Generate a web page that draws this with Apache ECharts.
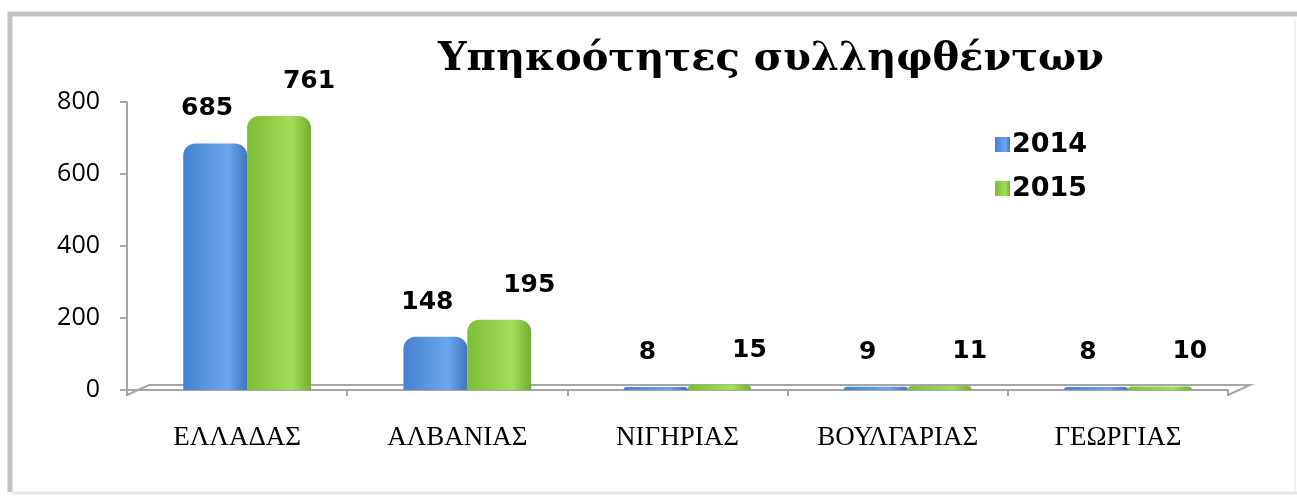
<!DOCTYPE html>
<html>
<head>
<meta charset="utf-8">
<script src="https://cdn.jsdelivr.net/npm/echarts@6/dist/echarts.min.js"></script>
<style>
html, body { margin: 0; padding: 0; background: #fff; }
#chart { width: 1297px; height: 497px; }
</style>
</head>
<body>
<div id="chart"></div>
<script>
// δεδομένα
var countries = ['ΕΛΛΑΔΑΣ', 'ΑΛΒΑΝΙΑΣ', 'ΝΙΓΗΡΙΑΣ', 'ΒΟΥΛΓΑΡΙΑΣ', 'ΓΕΩΡΓΙΑΣ'];
var years = ['2014', '2015'];
var arrests2014 = [685, 148, 8, 9, 8];
var arrests2015 = [761, 195, 15, 11, 10];
var yTicks = [0, 200, 400, 600, 800];

var myChart = echarts.init(document.getElementById('chart'));

function grad(c1, c2, c3) {
	return new echarts.graphic.LinearGradient(0, 0, 1, 0, [
		{ offset: 0, color: c1 },
		{ offset: 0.7, color: c2 },
		{ offset: 1, color: c3 }
	]);
}

var labelFont = {
	show: true,
	position: 'top',
	fontFamily: 'DejaVu Sans',
	fontWeight: 'bold',
	fontSize: 25,
	color: '#000'
};

var gridTop = 102, gridBottom = 107;

option = {
	animation: false,
	title: {
		text: 'Υπηκοότητες συλληφθέντων',
		left: 766,
		textAlign: 'center',
		top: 35,
		textStyle: {
			fontFamily: 'DejaVu Serif',
			fontWeight: 'bold',
			fontSize: 40,
			color: '#000'
		}
	},
	legend: {
		orient: 'vertical',
		left: 990,
		top: 126,
		itemWidth: 15,
		itemHeight: 15,
		itemGap: 17,
		icon: 'rect',
		data: years,
		textStyle: {
			fontFamily: 'DejaVu Sans',
			fontWeight: 'bold',
			fontSize: 27,
			color: '#000',
			padding: [0, 0, 0, -3]
		}
	},
	grid: [
		{ left: 127, right: 69, top: gridTop, bottom: gridBottom },
		{ left: 137, right: 59, top: gridTop, bottom: gridBottom }
	],
	xAxis: [
		{
			type: 'category',
			gridIndex: 0,
			data: countries,
			offset: 5,
			axisLine: { lineStyle: { color: '#a6a6a6', width: 2 } },
			axisTick: { show: true, length: 6, lineStyle: { color: '#a6a6a6', width: 2 } },
			axisLabel: {
				margin: 29,
				fontFamily: 'Liberation Serif',
				fontSize: 27,
				color: '#000'
			}
		},
		{ type: 'category', gridIndex: 1, data: countries, show: false }
	],
	yAxis: [
		{
			type: 'value',
			gridIndex: 0,
			min: 0,
			max: 800,
			interval: 200,
			axisLine: { show: true, lineStyle: { color: '#a6a6a6', width: 2 } },
			axisTick: { show: true, length: 7, lineStyle: { color: '#a6a6a6', width: 2 } },
			splitLine: { show: false },
			axisLabel: {
				margin: 27,
				fontFamily: 'Open Sans',
				fontSize: 25,
				color: '#000'
			}
		},
		{ type: 'value', gridIndex: 1, min: 0, max: 800, interval: 200, show: false, splitLine: { show: false } }
	],
	series: [
		{
			name: years[0],
			type: 'bar',
			xAxisIndex: 1,
			yAxisIndex: 1,
			data: arrests2014,
			barGap: '0%',
			barCategoryGap: '42%',
			itemStyle: {
				color: grad('#4681d2', '#6ba6ec', '#3f74c2'),
				borderRadius: [12, 12, 0, 0]
			},
			label: Object.assign({}, labelFont, { distance: 22, offset: [-8, 0] })
		},
		{
			name: years[1],
			type: 'bar',
			xAxisIndex: 1,
			yAxisIndex: 1,
			data: arrests2015,
			itemStyle: {
				color: grad('#7dbd38', '#a4dd59', '#72ad31'),
				borderRadius: [12, 12, 0, 0]
			},
			label: Object.assign({}, labelFont, { distance: 22, offset: [30, 0] })
		}
	]
};
myChart.setOption(option, true);

// πλαίσιο και "δάπεδο" 3Δ
var p0 = myChart.convertToPixel({ gridIndex: 0 }, [0, 0]);
var left = 127, right = 1297 - 69;
var y0 = p0[1];
myChart.setOption({
	graphic: [
		{ type: 'line', shape: { x1: 8, y1: 14, x2: 1297, y2: 14 }, style: { stroke: '#c3c3c3', lineWidth: 5 } },
		{ type: 'line', shape: { x1: 10, y1: 12, x2: 10, y2: 492 }, style: { stroke: '#c3c3c3', lineWidth: 5 } },
		{ type: 'line', shape: { x1: 12, y1: 493, x2: 1297, y2: 493 }, style: { stroke: '#e6e6e6', lineWidth: 3 } },
		{ type: 'line', shape: { x1: 1295, y1: 20, x2: 1295, y2: 492 }, style: { stroke: '#f0f0f0', lineWidth: 2 } },
		{ type: 'line', shape: { x1: left, y1: y0, x2: left, y2: y0 + 5 }, style: { stroke: '#a6a6a6', lineWidth: 2 } },
		{
			type: 'polyline',
			shape: { points: [[left, y0 + 5], [left + 22, y0 - 5], [right + 22, y0 - 5], [right, y0 + 5]] },
			style: { stroke: '#a6a6a6', lineWidth: 2, fill: null },
			z: 1
		}
	]
});

window.onresize = function() {
	myChart.resize();
};
</script>
</body>
</html>
